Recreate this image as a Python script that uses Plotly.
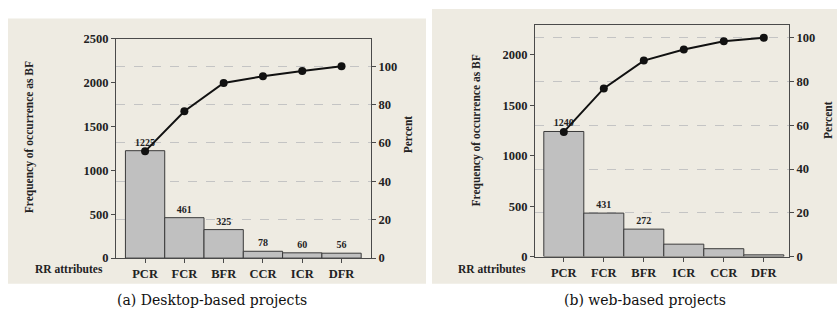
import plotly.graph_objects as go

# ---- data ----
cats_a = ["PCR", "FCR", "BFR", "CCR", "ICR", "DFR"]
counts_a = [1225, 461, 325, 78, 60, 56]
labels_a = ["1225", "461", "325", "78", "60", "56"]
cum_pct_a = [55.6, 76.5, 91.2, 94.7, 97.5, 100.0]

cats_b = ["PCR", "FCR", "BFR", "ICR", "CCR", "DFR"]
counts_b = [1240, 431, 272, 123, 78, 17]
labels_b = ["1240", "431", "272", "", "", ""]
cum_pct_b = [57.0, 76.9, 89.6, 94.7, 98.5, 100.0]

left_ticks_a = [0, 500, 1000, 1500, 2000, 2500]
left_ticks_b = [0, 500, 1000, 1500, 2000]
pct_ticks = [0, 20, 40, 60, 80, 100]

captions = ["(a) Desktop-based projects", "(b) web-based projects"]

W, H = 837, 328
def px(x):
    return x / W
def py(y):
    return 1 - y / H

SERIF = "Liberation Serif"
BEIGE = "#eeebe2"
LINE = "#4a4a4a"
BAR = "#c0c0c0"
GRID = "#c4c4c4"
tick_font = dict(family=SERIF, size=12.5, color="#222", weight="bold")
cat_font = dict(family=SERIF, size=12.5, color="#222", weight="bold")
bar_text_font = dict(family=SERIF, size=10, color="#222", weight="bold")

fig = go.Figure()

# Panel A
fig.add_trace(go.Bar(x=cats_a, y=counts_a, xaxis="x", yaxis="y", width=1,
                     marker=dict(color=BAR, line=dict(color="#3a3a3a", width=1)),
                     text=labels_a, textposition="outside", cliponaxis=False,
                     textfont=bar_text_font, showlegend=False, hoverinfo="skip"))
fig.add_trace(go.Scatter(x=cats_a, y=cum_pct_a, xaxis="x", yaxis="y2",
                         mode="lines+markers", line=dict(color="#111", width=2),
                         marker=dict(size=8, color="#111"), showlegend=False,
                         hoverinfo="skip"))
# Panel B
fig.add_trace(go.Bar(x=cats_b, y=counts_b, xaxis="x3", yaxis="y3", width=1,
                     marker=dict(color=BAR, line=dict(color="#3a3a3a", width=1)),
                     text=labels_b, textposition="outside", cliponaxis=False,
                     textfont=bar_text_font, showlegend=False, hoverinfo="skip"))
fig.add_trace(go.Scatter(x=cats_b, y=cum_pct_b, xaxis="x3", yaxis="y4",
                         mode="lines+markers", line=dict(color="#111", width=2),
                         marker=dict(size=8, color="#111"), showlegend=False,
                         hoverinfo="skip"))

def xax(domain, rng, anchor):
    return dict(domain=domain, range=rng, anchor=anchor, type="category",
                showline=True, linecolor=LINE, linewidth=1, mirror=True,
                ticks="outside", ticklen=4, tickcolor=LINE, tickfont=cat_font,
                showgrid=False, zeroline=False, fixedrange=True)

def yax(domain, rng, anchor, tickvals):
    return dict(domain=domain, range=rng, anchor=anchor, tickvals=tickvals,
                showline=True, linecolor=LINE, linewidth=1, mirror=True,
                ticks="outside", ticklen=4, tickcolor=LINE, tickfont=tick_font,
                showgrid=False, zeroline=False, fixedrange=True)

def y2ax(over, anchor, rng):
    return dict(overlaying=over, side="right", anchor=anchor, range=rng,
                tickvals=pct_ticks, ticks="outside", ticklen=4, tickcolor=LINE,
                tickfont=tick_font, showline=False, showgrid=True,
                gridcolor=GRID, griddash="dash", gridwidth=1, zeroline=False,
                fixedrange=True)

fig.update_layout(
    width=W, height=H, margin=dict(l=0, r=0, t=0, b=0),
    paper_bgcolor="white", plot_bgcolor="white", bargap=0,
    font=dict(family=SERIF), hovermode=False,
    xaxis=xax([px(116), px(371)], [-0.74, 5.75], "y"),
    yaxis=yax([py(262.3), py(33.3)], [0, 2500], "x", left_ticks_a),
    yaxis2=y2ax("y", "x", [0, 114.2]),
    xaxis3=xax([px(535), px(789)], [-0.72, 5.63], "y3"),
    yaxis3=yax([py(260.7), py(19)], [0, 2294], "x3", left_ticks_b),
    yaxis4=y2ax("y3", "x3", [0, 105.8]),
    shapes=[
        dict(type="rect", xref="paper", yref="paper", x0=px(8), x1=px(426),
             y0=py(289), y1=py(12), fillcolor=BEIGE, line=dict(width=0), layer="below"),
        dict(type="rect", xref="paper", yref="paper", x0=px(432), x1=px(837),
             y0=py(289), y1=py(2), fillcolor=BEIGE, line=dict(width=0), layer="below"),
    ],
)

ann_font = dict(family=SERIF, size=11.5, color="#222", weight="bold")
anns = [
    dict(x=px(29), y=py(136), text="Frequency of occurrence as BF", textangle=-90),
    dict(x=px(408), y=py(133), text="Percent", textangle=-90),
    dict(x=px(69), y=py(274), text="RR attributes", textangle=0),
    dict(x=px(476), y=py(129), text="Frequency of occurrence as BF", textangle=-90),
    dict(x=px(828), y=py(118), text="Percent", textangle=-90),
    dict(x=px(492), y=py(274), text="RR attributes", textangle=0),
]
for a in anns:
    fig.add_annotation(xref="paper", yref="paper", showarrow=False,
                       xanchor="center", yanchor="middle", font=ann_font, **a)

cap_font = dict(family="DejaVu Serif", size=14, color="#111")
fig.add_annotation(xref="paper", yref="paper", x=px(212), y=py(306), text=captions[0],
                   showarrow=False, xanchor="center", yanchor="middle", font=cap_font)
fig.add_annotation(xref="paper", yref="paper", x=px(645), y=py(306), text=captions[1],
                   showarrow=False, xanchor="center", yanchor="middle", font=cap_font)

fig.write_html("out.html", config={"displayModeBar": False, "staticPlot": True},
               post_script="document.body.style.margin='0';document.body.style.overflow='hidden';")
